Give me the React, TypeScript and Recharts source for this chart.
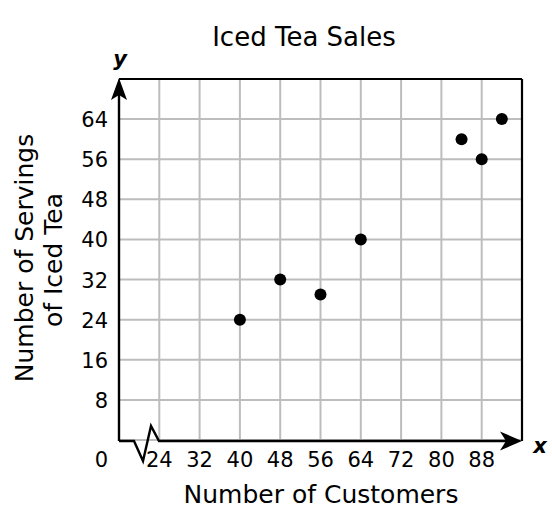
import React from "react";
import { ScatterChart, Scatter, XAxis, YAxis, CartesianGrid, Customized } from "recharts";

const customers = [40, 48, 56, 64, 84, 88, 92];
const servings = [24, 32, 29, 40, 60, 56, 64];
const xTicks = [16, 24, 32, 40, 48, 56, 64, 72, 80, 88, 96];
const yTicks = [0, 8, 16, 24, 32, 40, 48, 56, 64, 72];

const data = customers.map((c, i) => ({ x: c, y: servings[i] }));

const FONT = "'DejaVu Sans', Verdana, sans-serif";
const WIDTH = 552;
const HEIGHT = 515;
const MARGIN = { top: 79, right: 30, left: 79, bottom: 45 };
const Y_AXIS_W = 40;
const X_AXIS_H = 30;

// plot area edges
const PL = MARGIN.left + Y_AXIS_W;
const PT = MARGIN.top;
const PR = WIDTH - MARGIN.right;
const PB = HEIGHT - MARGIN.bottom - X_AXIS_H;

function YTick(props: any) {
	const { x, y, payload } = props;
	const v = payload.value;
	if (v === 72) return null;
	return (
		<text x={x} y={y} dy={v === 0 ? 27 : 8} textAnchor="end" fontSize={21} fontFamily={FONT} fill="#000">
			{v}
		</text>
	);
}

function Frame() {
	const ay = PB + 1;
	return (
		<g>
			{/* top and right border */}
			<line x1={PL} y1={PT} x2={PR} y2={PT} stroke="#000" strokeWidth={2.2} />
			<line x1={PR} y1={PT} x2={PR} y2={ay} stroke="#000" strokeWidth={2.2} />
			{/* y axis with arrow */}
			<line x1={PL} y1={ay} x2={PL} y2={PT + 12} stroke="#000" strokeWidth={2.4} />
			<polygon points={`${PL},${PT - 1} ${PL - 8},${PT + 21} ${PL},${PT + 16} ${PL + 8},${PT + 21}`} fill="#000" />
			{/* x axis with break and arrow */}
			<polyline
				points={`${PL},${ay} ${PL + 15},${ay} ${PL + 24},${ay + 20} ${PL + 32},${ay - 15} ${PL + 40},${ay} ${PR - 12},${ay}`}
				fill="none"
				stroke="#000"
				strokeWidth={2.4}
				strokeLinejoin="miter"
			/>
			<polygon points={`${PR},${ay} ${PR - 22},${ay - 9.5} ${PR - 16},${ay} ${PR - 22},${ay + 9.5}`} fill="#000" />
			{/* axis letters */}
			<text x={120} y={66} textAnchor="middle" fontSize={21} fontWeight="bold" fontStyle="italic" fontFamily={FONT}>y</text>
			<text x={540} y={453} textAnchor="middle" fontSize={21} fontWeight="bold" fontStyle="italic" fontFamily={FONT}>x</text>
			{/* title and axis titles */}
			<text x={304} y={46} textAnchor="middle" fontSize={26} fontFamily={FONT} fill="#000">Iced Tea Sales</text>
			<text x={321} y={503} textAnchor="middle" fontSize={25} fontFamily={FONT} fill="#000">Number of Customers</text>
			<text x={33} y={258} transform="rotate(-90, 33, 258)" textAnchor="middle" fontSize={25} fontFamily={FONT} fill="#000">
				Number of Servings
			</text>
			<text x={62} y={260} transform="rotate(-90, 62, 260)" textAnchor="middle" fontSize={25} fontFamily={FONT} fill="#000">
				of Iced Tea
			</text>
		</g>
	);
}

export default function App() {
	return (
		<div style={{ position: "absolute", left: 0, top: 0, background: "#fff" }}>
			<ScatterChart width={WIDTH} height={HEIGHT} margin={MARGIN}>
				<CartesianGrid stroke="#bdbdbd" strokeWidth={2} />
				<XAxis
					type="number"
					dataKey="x"
					domain={[16, 96]}
					ticks={xTicks}
					interval={0}
					height={X_AXIS_H}
					axisLine={false}
					tickLine={false}
					tickSize={0}
					tickMargin={12}
					tickFormatter={(v: number) => (v === 16 || v === 96 ? "" : String(v))}
					tick={{ fontSize: 21, fontFamily: FONT, fill: "#000" }}
				/>
				<YAxis
					type="number"
					dataKey="y"
					domain={[0, 72]}
					ticks={yTicks}
					interval={0}
					width={Y_AXIS_W}
					axisLine={false}
					tickLine={false}
					tickSize={0}
					tickMargin={11}
					tick={<YTick />}
				/>
				<Customized component={<Frame />} />
				<Scatter
					data={data}
					isAnimationActive={false}
					shape={(p: any) => <circle cx={p.cx} cy={p.cy} r={6} fill="#000" />}
				/>
			</ScatterChart>
		</div>
	);
}
